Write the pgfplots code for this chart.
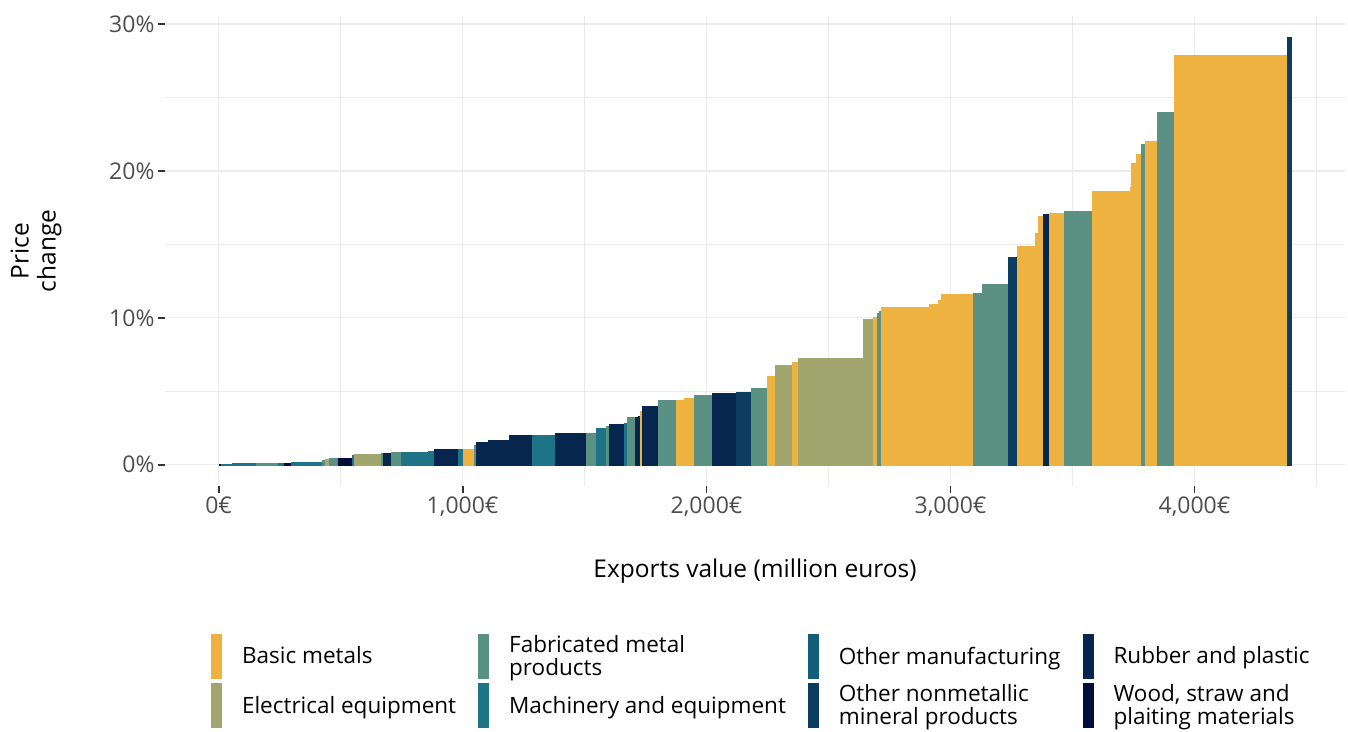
\documentclass[border=0pt]{standalone}
\usepackage{pgfplots}
\pgfplotsset{compat=1.18}
\usepackage{fontspec}
\setmainfont{Open Sans}
\definecolor{BM}{HTML}{EDB240}
\definecolor{EE}{HTML}{A0A66E}
\definecolor{FM}{HTML}{5B9182}
\definecolor{MA}{HTML}{1E7486}
\definecolor{OM}{HTML}{155E7B}
\definecolor{ON}{HTML}{0D3C61}
\definecolor{RP}{HTML}{06264E}
\definecolor{WD}{HTML}{030D3A}
\definecolor{gridgray}{HTML}{EBEBEB}
\definecolor{ticklab}{HTML}{4D4D4D}
\definecolor{tickcol}{HTML}{333333}
\begin{document}
\begin{tikzpicture}[x=1pt,y=1pt]
\path[use as bounding box] (0,0) rectangle (1348,731);
\begin{axis}[
  at={(165pt,245pt)}, anchor=south west,
  scale only axis, width=1180pt, height=470pt,
  xmin=-220, xmax=4617, ymin=-1.455, ymax=30.55,
  axis line style={draw=none},
  xtick={0,1000,2000,3000,4000},
  xticklabels={{0€},{1,000€},{2,000€},{3,000€},{4,000€}},
  minor xtick={500,1500,2500,3500,4500},
  ytick={0,10,20,30},
  yticklabels={{0\%},{10\%},{20\%},{30\%}},
  minor ytick={5,15,25},
  grid=both,
  major grid style={draw=gridgray, line width=1.2pt},
  minor grid style={draw=gridgray, line width=0.7pt},
  xtick pos=bottom, ytick pos=left,
  tick align=outside,
  major tick length=7pt, minor tick length=0pt,
  major tick style={draw=tickcol, line width=1.8pt},
  tick label style={font=\fontsize{23}{27}\selectfont, text=ticklab},
  xlabel={Exports value (million euros)},
  ylabel={Price\\change},
  x label style={at={(axis description cs:0.5,-0.155)}, anchor=north, inner sep=0pt, font=\fontsize{24.5}{28}\selectfont},
  y label style={at={(axis description cs:-0.131,0.5)}, anchor=north, inner sep=0pt, align=center, font=\fontsize{24.5}{27}\selectfont},
  b/.style={fill=#1, draw=#1, line width=0.2pt, forget plot},
  legend columns=4,
  legend cell align=left,
  legend image code/.code={\fill[#1, draw=none] (0pt,-22.5pt) rectangle (11pt,22.5pt);},
  legend style={at={(axis description cs:0.039,-0.313)}, anchor=north west,
    draw=none, fill=none, inner sep=0pt, outer sep=0pt, row sep=3pt,
    font=\fontsize{22.5}{23.5}\selectfont,
    cells={align=left, anchor=west},
    /tikz/every odd column/.append style={column sep=18pt},
    /tikz/every even column/.append style={column sep=20pt}},
]
\addplot[b=WD] coordinates {(0,0.05)(8.2,0.05)} \closedcycle;
\addplot[b=MA] coordinates {(8.2,0.05)(53.3,0.05)} \closedcycle;
\addplot[b=MA] coordinates {(53.3,0.10)(151.6,0.10)} \closedcycle;
\addplot[b=FM] coordinates {(151.6,0.10)(241.8,0.10)} \closedcycle;
\addplot[b=MA] coordinates {(241.8,0.10)(266.4,0.10)} \closedcycle;
\addplot[b=WD] coordinates {(266.4,0.10)(295.1,0.10)} \closedcycle;
\addplot[b=MA] coordinates {(295.1,0.18)(422.1,0.18)} \closedcycle;
\addplot[b=FM] coordinates {(422.1,0.30)(434.4,0.30)} \closedcycle;
\addplot[b=EE] coordinates {(434.4,0.38)(450.8,0.38)} \closedcycle;
\addplot[b=FM] coordinates {(450.8,0.45)(487.7,0.45)} \closedcycle;
\addplot[b=WD] coordinates {(487.7,0.45)(545.1,0.45)} \closedcycle;
\addplot[b=MA] coordinates {(545.1,0.66)(553.3,0.66)} \closedcycle;
\addplot[b=EE] coordinates {(553.3,0.73)(663.9,0.73)} \closedcycle;
\addplot[b=FM] coordinates {(663.9,0.80)(672.1,0.80)} \closedcycle;
\addplot[b=RP] coordinates {(672.1,0.80)(704.9,0.80)} \closedcycle;
\addplot[b=FM] coordinates {(704.9,0.86)(745.9,0.86)} \closedcycle;
\addplot[b=MA] coordinates {(745.9,0.86)(856.6,0.86)} \closedcycle;
\addplot[b=MA] coordinates {(856.6,0.93)(881.1,0.93)} \closedcycle;
\addplot[b=RP] coordinates {(881.1,1.07)(979.5,1.07)} \closedcycle;
\addplot[b=MA] coordinates {(979.5,1.07)(1000,1.07)} \closedcycle;
\addplot[b=BM] coordinates {(1000,1.07)(1045.1,1.07)} \closedcycle;
\addplot[b=FM] coordinates {(1045.1,1.36)(1053.3,1.36)} \closedcycle;
\addplot[b=RP] coordinates {(1053.3,1.56)(1102.5,1.56)} \closedcycle;
\addplot[b=RP] coordinates {(1102.5,1.70)(1188.5,1.70)} \closedcycle;
\addplot[b=RP] coordinates {(1188.5,2.04)(1282.8,2.04)} \closedcycle;
\addplot[b=MA] coordinates {(1282.8,2.04)(1377.0,2.04)} \closedcycle;
\addplot[b=RP] coordinates {(1377.0,2.17)(1504.1,2.17)} \closedcycle;
\addplot[b=FM] coordinates {(1504.1,2.17)(1545.1,2.17)} \closedcycle;
\addplot[b=MA] coordinates {(1545.1,2.50)(1586.1,2.50)} \closedcycle;
\addplot[b=FM] coordinates {(1586.1,2.64)(1598.4,2.64)} \closedcycle;
\addplot[b=RP] coordinates {(1598.4,2.78)(1663.9,2.78)} \closedcycle;
\addplot[b=MA] coordinates {(1663.9,2.85)(1676.2,2.85)} \closedcycle;
\addplot[b=FM] coordinates {(1676.2,3.25)(1704.9,3.25)} \closedcycle;
\addplot[b=RP] coordinates {(1704.9,3.25)(1717.2,3.25)} \closedcycle;
\addplot[b=RP] coordinates {(1717.2,3.32)(1725.4,3.32)} \closedcycle;
\addplot[b=BM] coordinates {(1725.4,3.66)(1733.6,3.66)} \closedcycle;
\addplot[b=RP] coordinates {(1733.6,4.00)(1799.2,4.00)} \closedcycle;
\addplot[b=FM] coordinates {(1799.2,4.41)(1873.0,4.41)} \closedcycle;
\addplot[b=BM] coordinates {(1873.0,4.41)(1909.8,4.41)} \closedcycle;
\addplot[b=BM] coordinates {(1909.8,4.55)(1950.8,4.55)} \closedcycle;
\addplot[b=FM] coordinates {(1950.8,4.75)(2024.6,4.75)} \closedcycle;
\addplot[b=RP] coordinates {(2024.6,4.89)(2118.9,4.89)} \closedcycle;
\addplot[b=ON] coordinates {(2118.9,4.95)(2184.4,4.95)} \closedcycle;
\addplot[b=FM] coordinates {(2184.4,5.22)(2250.0,5.22)} \closedcycle;
\addplot[b=BM] coordinates {(2250.0,6.03)(2282.8,6.03)} \closedcycle;
\addplot[b=EE] coordinates {(2282.8,6.78)(2352.5,6.78)} \closedcycle;
\addplot[b=BM] coordinates {(2352.5,6.98)(2377.0,6.98)} \closedcycle;
\addplot[b=EE] coordinates {(2377.0,7.26)(2643.4,7.26)} \closedcycle;
\addplot[b=EE] coordinates {(2643.4,9.91)(2684.4,9.91)} \closedcycle;
\addplot[b=BM] coordinates {(2684.4,10.05)(2700.8,10.05)} \closedcycle;
\addplot[b=FM] coordinates {(2700.8,10.32)(2709.0,10.32)} \closedcycle;
\addplot[b=FM] coordinates {(2709.0,10.46)(2717.2,10.46)} \closedcycle;
\addplot[b=BM] coordinates {(2717.2,10.73)(2913.9,10.73)} \closedcycle;
\addplot[b=BM] coordinates {(2913.9,10.93)(2950.8,10.93)} \closedcycle;
\addplot[b=BM] coordinates {(2950.8,11.20)(2963.1,11.20)} \closedcycle;
\addplot[b=BM] coordinates {(2963.1,11.61)(3094.3,11.61)} \closedcycle;
\addplot[b=FM] coordinates {(3094.3,11.68)(3131.1,11.68)} \closedcycle;
\addplot[b=FM] coordinates {(3131.1,12.29)(3237.7,12.29)} \closedcycle;
\addplot[b=ON] coordinates {(3237.7,14.13)(3274.6,14.13)} \closedcycle;
\addplot[b=BM] coordinates {(3274.6,14.88)(3348.4,14.88)} \closedcycle;
\addplot[b=BM] coordinates {(3348.4,15.76)(3360.7,15.76)} \closedcycle;
\addplot[b=BM] coordinates {(3360.7,16.92)(3381.1,16.92)} \closedcycle;
\addplot[b=RP] coordinates {(3381.1,17.05)(3405.7,17.05)} \closedcycle;
\addplot[b=BM] coordinates {(3405.7,17.12)(3467.2,17.12)} \closedcycle;
\addplot[b=FM] coordinates {(3467.2,17.26)(3582.0,17.26)} \closedcycle;
\addplot[b=BM] coordinates {(3582.0,18.62)(3737.7,18.62)} \closedcycle;
\addplot[b=BM] coordinates {(3737.7,18.89)(3741.8,18.89)} \closedcycle;
\addplot[b=BM] coordinates {(3741.8,20.52)(3762.3,20.52)} \closedcycle;
\addplot[b=BM] coordinates {(3762.3,21.14)(3782.8,21.14)} \closedcycle;
\addplot[b=FM] coordinates {(3782.8,21.82)(3799.2,21.82)} \closedcycle;
\addplot[b=BM] coordinates {(3799.2,22.02)(3848.4,22.02)} \closedcycle;
\addplot[b=FM] coordinates {(3848.4,23.99)(3918.0,23.99)} \closedcycle;
\addplot[b=BM] coordinates {(3918.0,27.87)(4381.1,27.87)} \closedcycle;
\addplot[b=ON] coordinates {(4381.1,29.10)(4397.5,29.10)} \closedcycle;
\addlegendimage{fill=BM}
\addlegendentry{Basic metals}
\addlegendimage{fill=FM}
\addlegendentry{Fabricated metal\\products}
\addlegendimage{fill=OM}
\addlegendentry{Other manufacturing}
\addlegendimage{fill=RP}
\addlegendentry{Rubber and plastic}
\addlegendimage{fill=EE}
\addlegendentry{Electrical equipment}
\addlegendimage{fill=MA}
\addlegendentry{Machinery and equipment}
\addlegendimage{fill=ON}
\addlegendentry{Other nonmetallic\\mineral products}
\addlegendimage{fill=WD}
\addlegendentry{Wood, straw and\\plaiting materials}
\end{axis}
\end{tikzpicture}
\end{document}
